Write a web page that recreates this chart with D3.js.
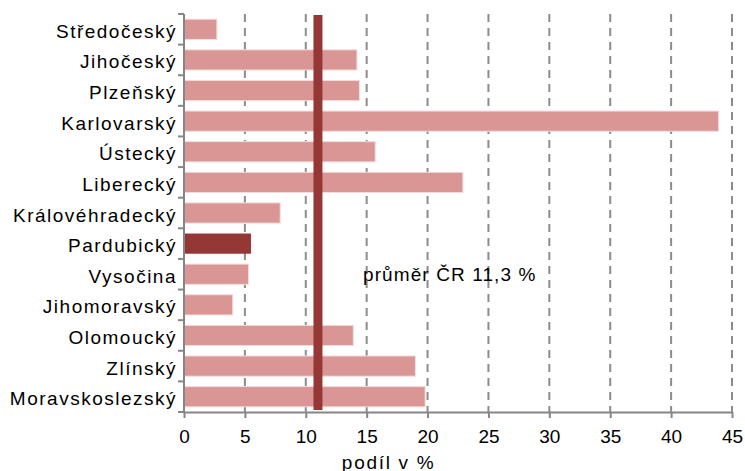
<!DOCTYPE html>
<html>
<head>
<meta charset="utf-8">
<script src="https://cdn.jsdelivr.net/npm/d3@7"></script>
<style>
  body { margin: 0; background: #fff; }
  svg { display: block; font-family: "Liberation Sans", Arial, sans-serif; }
</style>
</head>
<body>
<svg width="745" height="471"></svg>
<script>
// kraje a podíl v %
const kraje = ["Středočeský", "Jihočeský", "Plzeňský", "Karlovarský", "Ústecký", "Liberecký",
  "Královéhradecký", "Pardubický", "Vysočina", "Jihomoravský", "Olomoucký", "Zlínský", "Moravskoslezský"];
const podil = [2.7, 14.2, 14.4, 43.9, 15.7, 22.9, 7.9, 5.5, 5.3, 4.0, 13.9, 19.0, 19.8];
const zvyraznenyKraj = "Pardubický";
const prumerCR = 11.3;        // hodnota v popisku
const prumerPoloha = 11.0;    // kde je čára v grafu
const xTicks = [0, 5, 10, 15, 20, 25, 30, 35, 40, 45];

const width = 745, height = 471;
const margin = { top: 14, right: 13, bottom: 59, left: 184 };
const innerWidth = width - margin.left - margin.right;
const innerHeight = height - margin.top - margin.bottom;

const svg = d3.select("svg");
const g = svg.append("g")
  .attr("transform", `translate(${margin.left}, ${margin.top})`);

const x = d3.scaleLinear().domain([0, 45]).range([0, innerWidth]);
const y = d3.scaleBand().domain(kraje).range([0, innerHeight]).paddingInner(0.34).paddingOuter(0.17);

// mřížka
g.selectAll("line.grid")
  .data(xTicks.filter(d => d > 0))
  .join("line")
  .attr("class", "grid")
  .attr("x1", d => x(d)).attr("x2", d => x(d))
  .attr("y1", 0).attr("y2", innerHeight)
  .attr("stroke", "#8c8c8c")
  .attr("stroke-width", 2)
  .attr("stroke-dasharray", "8,6");

// sloupce
g.selectAll("rect.bar")
  .data(kraje)
  .join("rect")
  .attr("class", "bar")
  .attr("x", 0)
  .attr("y", d => y(d))
  .attr("width", (d, i) => x(podil[i]))
  .attr("height", y.bandwidth())
  .attr("fill", d => d === zvyraznenyKraj ? "#953735" : "#d99694")
  .attr("stroke", d => d === zvyraznenyKraj ? "none" : "#f2dcdb")
  .attr("stroke-width", 1);

// čára průměru ČR
g.append("line")
  .attr("x1", x(prumerPoloha)).attr("x2", x(prumerPoloha))
  .attr("y1", 1).attr("y2", innerHeight - 2)
  .attr("stroke", "#953735")
  .attr("stroke-width", 9);

g.append("text")
  .attr("x", 179)
  .attr("y", 267)
  .attr("font-size", 19)
  .attr("letter-spacing", 1.1)
  .attr("fill", "#000")
  .text(`průměr ČR ${String(prumerCR).replace(".", ",")} %`);

// osa x
const xAxis = g.append("g")
  .attr("transform", `translate(0, ${innerHeight})`)
  .call(d3.axisBottom(x).tickValues(xTicks).tickSize(6).tickSizeOuter(0).tickPadding(12));
xAxis.select(".domain").attr("stroke", "#868686").attr("stroke-width", 2);
xAxis.selectAll(".tick line").attr("stroke", "#868686").attr("stroke-width", 2);
xAxis.selectAll(".tick text").attr("font-size", 19).attr("fill", "#000")
  .attr("font-family", "Liberation Sans, Arial, sans-serif");

g.append("text")
  .attr("x", x(16.8))
  .attr("y", innerHeight + 57)
  .attr("text-anchor", "middle")
  .attr("font-size", 19)
  .attr("letter-spacing", 1.7)
  .attr("fill", "#000")
  .text("podíl v %");

// osa y
const yAxis = g.append("g");
yAxis.append("line")
  .attr("x1", 0).attr("x2", 0)
  .attr("y1", 0).attr("y2", innerHeight)
  .attr("stroke", "#868686").attr("stroke-width", 2);
const hranice = kraje.map(d => y(d) - y.step() * y.paddingInner() / 2).concat([innerHeight]);
hranice[0] = 0;
yAxis.selectAll("line.tick")
  .data(hranice)
  .join("line")
  .attr("class", "tick")
  .attr("x1", -6).attr("x2", 0)
  .attr("y1", d => d).attr("y2", d => d)
  .attr("stroke", "#868686").attr("stroke-width", 2);

yAxis.selectAll("text.kraj")
  .data(kraje)
  .join("text")
  .attr("class", "kraj")
  .attr("x", -7)
  .attr("y", d => y(d) + y.bandwidth() / 2)
  .attr("dy", "0.45em")
  .attr("text-anchor", "end")
  .attr("font-size", 19)
  .attr("letter-spacing", 1.5)
  .attr("fill", "#000")
  .text(d => d);
</script>
</body>
</html>
